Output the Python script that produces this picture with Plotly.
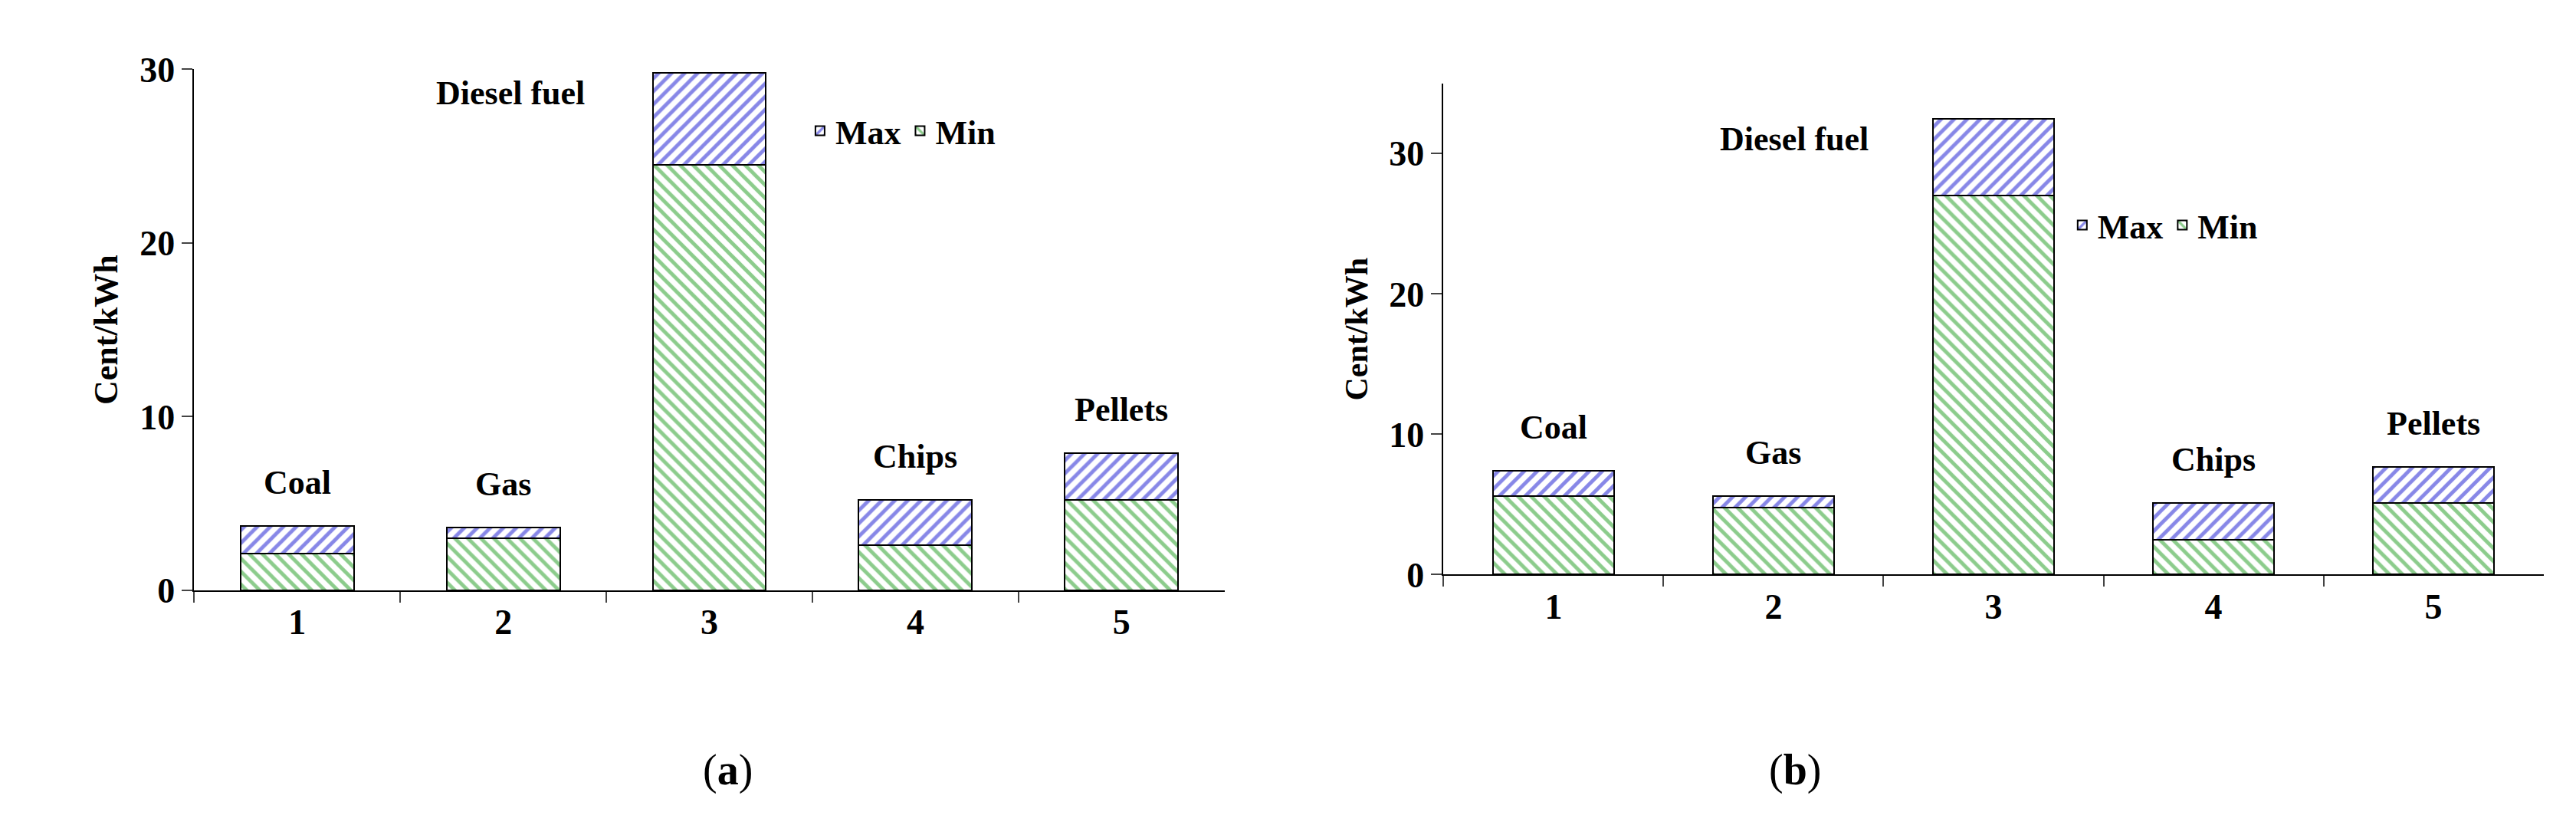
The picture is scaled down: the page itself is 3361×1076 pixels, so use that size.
import plotly.graph_objects as go

cats = ["1", "2", "3", "4", "5"]
names = ["Coal", "Gas", "Diesel fuel", "Chips", "Pellets"]
a_min = [2.1, 3.0, 24.5, 2.6, 5.2]
a_max = [1.6, 0.6, 5.3, 2.6, 2.7]
b_min = [5.6, 4.8, 27.0, 2.5, 5.1]
b_max = [1.8, 0.8, 5.5, 2.6, 2.6]

F = "Liberation Serif"
fig = go.Figure()
for (mn, mx, xa, ya, lg) in [(a_min, a_max, "x", "y", "legend"), (b_min, b_max, "x2", "y2", "legend2")]:
    fig.add_trace(go.Bar(x=cats, y=mn, name="<b>Min</b>", xaxis=xa, yaxis=ya, legend=lg,
                         marker=dict(color="white", line=dict(color="black", width=2),
                                     pattern=dict(shape="\\", fgcolor="#1a9a1a", size=12, solidity=0.4)), width=0.55))
    fig.add_trace(go.Bar(x=cats, y=mx, name="<b>Max</b>", xaxis=xa, yaxis=ya, legend=lg,
                         marker=dict(color="white", line=dict(color="black", width=2),
                                     pattern=dict(shape="/", fgcolor="#1010d0", size=12, solidity=0.4)), width=0.55))
    for i, n in enumerate(names):
        tot = mn[i] + mx[i]
        if i == 2:
            fig.add_annotation(x=i, y=tot, xref=xa, yref=ya, text="<b>%s</b>" % n, showarrow=False,
                               xshift=-260, yanchor="top", font=dict(family=F, size=44, color="black"))
        else:
            fig.add_annotation(x=i, y=tot, xref=xa, yref=ya, text="<b>%s</b>" % n, showarrow=False,
                               yshift=30, yanchor="bottom", font=dict(family=F, size=44, color="black"))

fig.update_layout(barmode="stack", width=3361, height=1076, plot_bgcolor="white", paper_bgcolor="white",
                  margin=dict(l=0, r=0, t=0, b=0),
                  legend=dict(x=0.31, y=0.9, orientation="h", font=dict(family=F, size=44), bgcolor="rgba(0,0,0,0)"),
                  legend2=dict(x=0.8, y=0.78, orientation="h", font=dict(family=F, size=44), bgcolor="rgba(0,0,0,0)"),
                  font=dict(family=F, color="black"))
ax = dict(showline=True, linecolor="black", linewidth=2, ticks="outside", tickson="boundaries", ticklen=14,
          tickwidth=2, tickfont=dict(family=F, size=46, color="black"), tickprefix="<b>", ticksuffix="</b>",
          type="category")
yax = dict(showline=True, linecolor="black", linewidth=2, ticks="outside", ticklen=14, tickwidth=2,
           showgrid=False, zeroline=False, dtick=10, tickprefix="<b>", ticksuffix="</b>",
           tickfont=dict(family=F, size=46, color="black"))
fig.update_layout(
    xaxis=dict(domain=[0.073, 0.473], anchor="y", **ax),
    xaxis2=dict(domain=[0.558, 0.985], anchor="y2", **ax),
    yaxis=dict(domain=[0.281, 0.944], range=[0, 30], title=dict(text="<b>Cent/kWh</b>", font=dict(family=F, size=44)), **yax),
    yaxis2=dict(domain=[0.301, 0.926], range=[0, 35], anchor="x2",
                title=dict(text="<b>Cent/kWh</b>", font=dict(family=F, size=42)), **yax),
)
fig.add_annotation(x=0.27, y=0.02, xref="paper", yref="paper", text="(<b>a</b>)", showarrow=False,
                   font=dict(family=F, size=56))
fig.add_annotation(x=0.705, y=0.02, xref="paper", yref="paper", text="(<b>b</b>)", showarrow=False,
                   font=dict(family=F, size=56))
fig.write_html("out.html")
